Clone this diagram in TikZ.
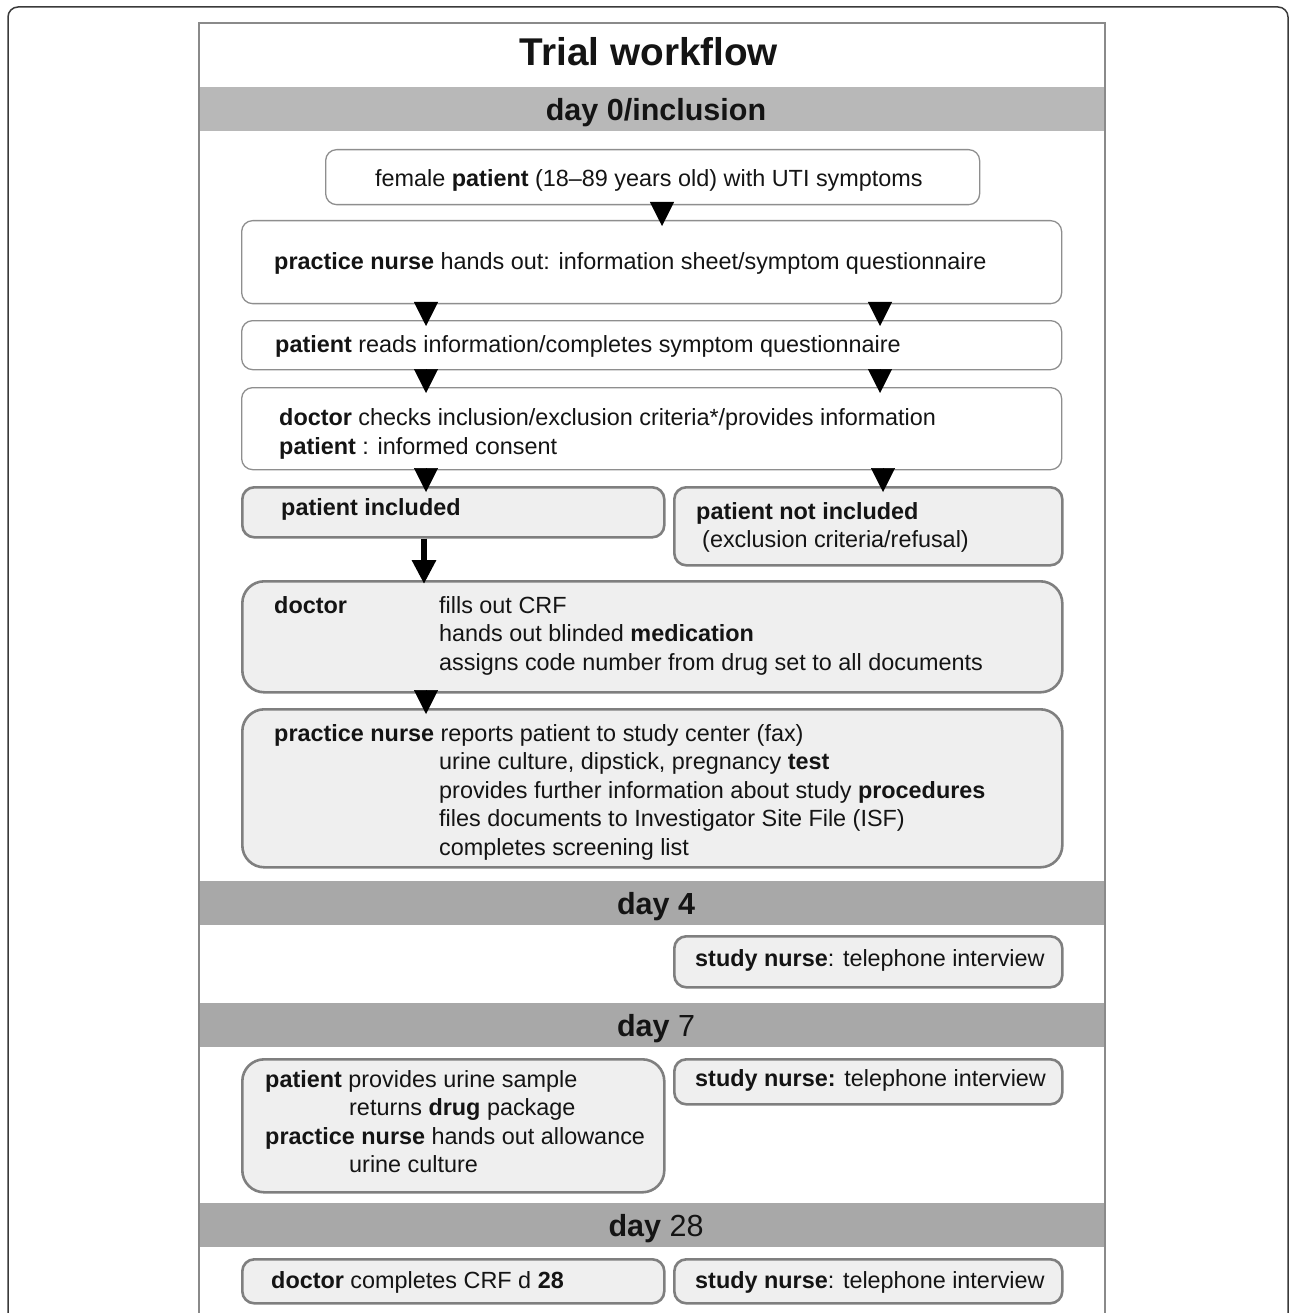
\documentclass[tikz,border=0pt]{standalone}
\usepackage{fontspec}
\setmainfont{Liberation Sans}
\usetikzlibrary{arrows.meta}
\definecolor{bandA}{HTML}{B8B8B8}
\definecolor{bandB}{HTML}{A8A8A8}
\definecolor{boxfill}{HTML}{EFEFEF}
\definecolor{boxline}{HTML}{7F7F7F}
\definecolor{wline}{HTML}{8E8E8E}
\definecolor{panelline}{HTML}{8A8A8A}
\definecolor{frameline}{HTML}{3A3A3A}
\definecolor{ink}{HTML}{141414}
\begin{document}
\begin{tikzpicture}[x=1pt,y=-1pt,
  wbox/.style={draw=wline, line width=1.3pt, fill=white, rounded corners=11pt, anchor=north west, inner sep=0pt},
  gbox/.style={draw=boxline, line width=2.6pt, fill=boxfill, rounded corners=12pt, anchor=north west, inner sep=0pt},
  bigbox/.style={gbox, rounded corners=22pt},
  band/.style={anchor=north west, inner sep=0pt, minimum width=906pt, minimum height=44pt},
  daytxt/.style={inner sep=0pt, text height=22pt, text depth=0pt, font=\fontsize{30.5}{36}\selectfont, text=ink},
  txt/.style={anchor=west, inner sep=0pt, text height=16.8pt, text depth=0pt, font=\fontsize{23.4}{28.4}\selectfont, text=ink},
  tri/.style={-{Triangle[width=24pt,length=24pt]}, line width=0.5pt, shorten >=-6pt, shorten <=-1pt},
  bigarrow/.style={-{Triangle[width=23pt,length=24pt]}, line width=6pt, shorten >=-4pt}
]
\useasboundingbox (0,0) rectangle (1290,1313);
% outer frame
\draw[frameline, line width=1.5pt, rounded corners=10pt] (8,1330) -- (8,7) -- (1288,7) -- (1288,1330);
% bands
\node[band, fill=bandA] (band0) at (199,87) {};
\node[band, fill=bandB] (band4) at (199,881) {};
\node[band, fill=bandB] (band7) at (199,1003) {};
\node[band, fill=bandB] (band28) at (199,1203) {};
% panel border
\draw[panelline, line width=2pt] (199,1330) -- (199,23) -- (1105,23) -- (1105,1330);
% title and day labels
\node[inner sep=0pt, text height=27.5pt, text depth=0pt, font=\fontsize{38.7}{46}\selectfont, text=ink] (title) at (649,52) {\textbf{Trial workflow}};
\node[daytxt] (d0t) at (656,110) {\textbf{day 0/inclusion}};
\node[daytxt] (d4t) at (656,903) {\textbf{day 4}};
\node[daytxt] (d7t) at (656,1025) {\textbf{day} 7};
\node[daytxt] (d28t) at (656,1225) {\textbf{day} 28};
% boxes
\node[wbox, minimum width=654pt, minimum height=55pt] (b1) at (325,149) {};
\node[wbox, minimum width=820pt, minimum height=83pt] (b2) at (241,220) {};
\node[wbox, minimum width=820pt, minimum height=49pt] (b3) at (241,320) {};
\node[wbox, minimum width=820pt, minimum height=82pt] (b4) at (241,387) {};
\node[gbox, minimum width=422pt, minimum height=50pt] (b5) at (241,486) {};
\node[gbox, minimum width=388pt, minimum height=78pt] (b6) at (673,486) {};
\node[bigbox, minimum width=820pt, minimum height=111pt] (b7) at (241,580) {};
\node[bigbox, minimum width=820pt, minimum height=158pt] (b8) at (241,708) {};
\node[gbox, minimum width=388pt, minimum height=51pt] (b9) at (673,935) {};
\node[bigbox, minimum width=422pt, minimum height=133pt] (b10) at (241,1058) {};
\node[gbox, minimum width=388pt, minimum height=45pt] (b11) at (673,1058) {};
\node[gbox, minimum width=422pt, minimum height=44pt] (b12) at (241,1258) {};
\node[gbox, minimum width=388pt, minimum height=44pt] (b13) at (673,1258) {};
% arrow columns
\coordinate (cA) at (662,0);
\coordinate (cL) at (426,0);
\coordinate (cR) at (880,0);
\coordinate (cR2) at (883,0);
\coordinate (cT) at (424,0);
% connectors
\draw[tri] (b1.south -| cA) -- (b2.north -| cA);
\draw[tri] (b2.south -| cL) -- (b3.north -| cL);
\draw[tri] (b2.south -| cR) -- (b3.north -| cR);
\draw[tri] (b3.south -| cL) -- (b4.north -| cL);
\draw[tri] (b3.south -| cR) -- (b4.north -| cR);
\draw[tri] (b4.south -| cL) -- (b5.north -| cL);
\draw[tri] (b4.south -| cR2) -- (b6.north -| cR2);
\draw[bigarrow] (b5.south -| cT) -- (b7.north -| cT);
\draw[tri] (b7.south -| cL) -- (b8.north -| cL);
% texts
\node[txt] (t1) at (375,178) {female \textbf{patient} (18--89 years old) with UTI symptoms};
\node[txt] (t2) at (274,261) {\textbf{practice nurse} hands out: information sheet/symptom questionnaire};
\node[txt] (t3) at (275,344) {\textbf{patient} reads information/completes symptom questionnaire};
\node[txt] (t4) at (279,417) {\begin{tabular}[t]{@{}l@{}}\textbf{doctor} checks inclusion/exclusion criteria*/provides information\\[0.6pt] \textbf{patient} : informed consent\end{tabular}};
\node[txt] (t5) at (281,507) {\textbf{patient included}};
\node[txt] (t6) at (696,511) {\begin{tabular}[t]{@{}l@{}}\textbf{patient not included}\\ \hspace*{6pt}(exclusion criteria/refusal)\end{tabular}};
\node[txt] (t7) at (274,605) {\begin{tabular}[t]{@{}l@{}}\makebox[165pt][l]{\textbf{doctor}}fills out CRF\\ \hspace*{165pt}hands out blinded \textbf{medication}\\ \hspace*{165pt}assigns code number from drug set to all documents\end{tabular}};
\node[txt] (t8) at (274,733) {\begin{tabular}[t]{@{}l@{}}\textbf{practice nurse} reports patient to study center (fax)\\ \hspace*{165pt}urine culture, dipstick, pregnancy \textbf{test}\\ \hspace*{165pt}provides further information about study \textbf{procedures}\\ \hspace*{165pt}files documents to Investigator Site File (ISF)\\ \hspace*{165pt}completes screening list\end{tabular}};
\node[txt] (t9) at (695,958) {\textbf{study nurse}: telephone interview};
\node[txt] (t10) at (265,1079) {\begin{tabular}[t]{@{}l@{}}\textbf{patient} provides urine sample\\ \hspace*{84pt}returns \textbf{drug} package\\ \textbf{practice nurse} hands out allowance\\ \hspace*{84pt}urine culture\end{tabular}};
\node[txt] (t11) at (695,1078) {\textbf{study nurse:} telephone interview};
\node[txt] (t12) at (271,1280) {\textbf{doctor} completes CRF d \textbf{28}};
\node[txt] (t13) at (695,1280) {\textbf{study nurse}: telephone interview};
\end{tikzpicture}
\end{document}
